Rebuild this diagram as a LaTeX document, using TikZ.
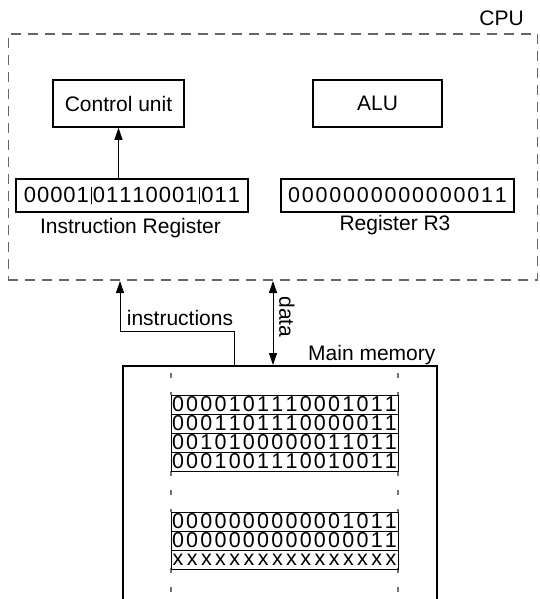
\documentclass[tikz,border=0pt]{standalone}
\usepackage{fontspec}
\setmainfont{Liberation Sans}
\usetikzlibrary{arrows.meta}

% a row of bits, each in a fixed-width cell; "|" gives a thin field divider
\ExplSyntaxOn
\NewDocumentCommand \bitrow { m m }
 {
  \tl_map_inline:nn {#2}
   {
    \str_if_eq:nnTF {##1} {|}
     { \makebox[3pt]{\rule[-1.5pt]{0.7pt}{17.5pt}} }
     { \makebox[#1]{##1} }
   }
 }
\ExplSyntaxOff

\tikzset{
  lbl/.style={font=\fontsize{21}{24}\selectfont, inner sep=0pt},
  unitbox/.style={draw, line width=1.6pt, inner sep=0pt, font=\fontsize{21}{24}\selectfont},
  regbox/.style={draw, line width=1.6pt, inner sep=0pt, minimum height=33pt},
  word/.style={draw, line width=0.8pt, inner sep=0pt, minimum width=227pt, minimum height=19pt,
               font=\fontsize{21.5}{22}\selectfont},
  cpubox/.style={draw=black!60, line width=1.1pt, dash pattern=on 10pt off 7pt, inner sep=0pt},
  membox/.style={line width=2.4pt},
  lane/.style={draw=black!55, line width=1.2pt, dash pattern=on 5pt off 14pt},
  conn/.style={line width=0.9pt, -{Triangle[length=12pt,width=8pt]}},
  dconn/.style={line width=0.9pt, {Triangle[length=12pt,width=8pt]}-{Triangle[length=12pt,width=8pt]}},
}

\begin{document}
\begin{tikzpicture}[x=1pt, y=-1pt]
\useasboundingbox (0,0) rectangle (539,599);

% CPU
\node[cpubox, minimum width=529.5pt, minimum height=246pt] (cpu) at (273,157) {};
\node[lbl, anchor=base] (cpulbl) at (501.5,26) {CPU};

\node[unitbox, minimum width=131pt, minimum height=47pt] (cu) at (118.5,103.5) {Control unit};
\node[unitbox, minimum width=129pt, minimum height=47pt] (alu) at (377.5,103.5) {ALU};

\node[regbox, minimum width=232pt, font=\fontsize{22}{24}\selectfont] (ir) at (132,195.5)
  {\bitrow{13.2pt}{00001|01110001|011}};
\node[lbl, anchor=base] (irlbl) at (130.5,233.5) {Instruction Register};

\node[regbox, minimum width=233pt, font=\fontsize{21.5}{24}\selectfont] (r3) at (397.5,195.5)
  {\bitrow{13.8pt}{0000000000000011}};
\node[lbl, anchor=base] (r3lbl) at (395,230) {Register R3};

\coordinate (irtop) at (ir.north -| cu.south);
\draw[conn] (irtop) -- (cu.south);

% main memory
\coordinate (memtl) at (123,366);
\coordinate (memtr) at (437,366);
\coordinate (membl) at (123,601);
\coordinate (membr) at (437,601);
\draw[membox] (membl) -- (memtl) -- (memtr) -- (membr);
\node[lbl, anchor=base west] (memlbl) at (308,360) {Main memory};

% memory lanes
\draw[lane] (171,373) -- (171,395);
\draw[lane] (398,373) -- (398,395);
\draw[lane] (171,471) -- (171,512);
\draw[lane] (398,471) -- (398,512);
\draw[lane] (171,568) -- (171,599);
\draw[lane] (398,568) -- (398,599);

% memory words
\node[word] (w1) at (284.5,404.5) {\bitrow{14.2pt}{0000101110001011}};
\node[word] (w2) at (284.5,423.5) {\bitrow{14.2pt}{0001101110000011}};
\node[word] (w3) at (284.5,442.5) {\bitrow{14.2pt}{0010100000011011}};
\node[word] (w4) at (284.5,461.5) {\bitrow{14.2pt}{0001001110010011}};

\node[word] (w5) at (284.5,521.5) {\bitrow{14.2pt}{0000000000001011}};
\node[word] (w6) at (284.5,540.5) {\bitrow{14.2pt}{0000000000000011}};
\node[word] (w7) at (284.5,559.5) {\bitrow{14.2pt}{xxxxxxxxxxxxxxxx}};

% buses between memory and CPU
\coordinate (instsrc) at (234,366);
\coordinate (instbend) at (234,331);
\coordinate (instdst) at (120,281);
\draw[conn] (instsrc) -- (instbend) -- (instbend -| instdst) -- (instdst);
\node[lbl, anchor=base] (instlbl) at (180,325) {instructions};

\coordinate (datatop) at (273,281);
\coordinate (databot) at (273,365);
\draw[dconn] (datatop) -- (databot);
\node[lbl, rotate=-90] (datalbl) at (287,317) {data};
\end{tikzpicture}
\end{document}
